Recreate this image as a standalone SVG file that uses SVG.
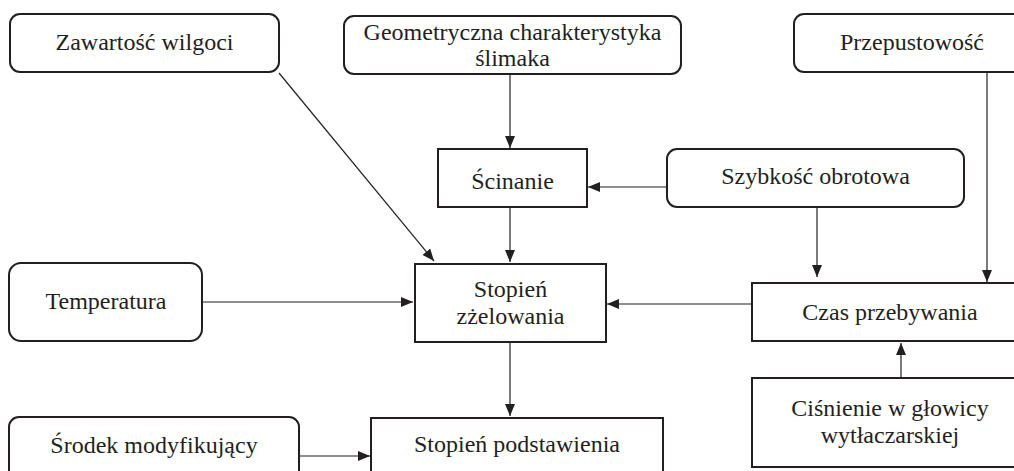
<svg xmlns="http://www.w3.org/2000/svg" width="1014" height="471" viewBox="0 0 1014 471">
<style>
.box{fill:#fff;stroke:#231f20;stroke-width:2}
.t{font-family:"Liberation Serif","Times New Roman",serif;font-size:24px;fill:#231f20;text-anchor:middle}
.c{stroke:#231f20;stroke-width:1.2;fill:none;marker-end:url(#ah)}
</style>
<defs>
<marker id="ah" markerWidth="12" markerHeight="10" refX="12" refY="5" orient="auto" markerUnits="userSpaceOnUse">
<path d="M0,0 L12,5 L0,10 Z" fill="#231f20"/>
</marker>
</defs>
<rect width="1014" height="471" fill="#fff"/>
<g id="connectors">
<line class="c" x1="279" y1="73" x2="434" y2="261"/>
<line class="c" x1="510" y1="74" x2="510" y2="148"/>
<line class="c" x1="667" y1="187" x2="588" y2="187"/>
<line class="c" x1="510" y1="207" x2="510" y2="262"/>
<line class="c" x1="202" y1="302" x2="413" y2="302"/>
<line class="c" x1="752" y1="304" x2="607" y2="304"/>
<line class="c" x1="817" y1="207" x2="817" y2="277"/>
<line class="c" x1="987" y1="72" x2="987" y2="282"/>
<line class="c" x1="901" y1="378" x2="901" y2="343"/>
<line class="c" x1="510" y1="342" x2="510" y2="416"/>
<line class="c" x1="299" y1="456" x2="370" y2="456"/>
</g>
<g id="n-zawartosc">
<rect class="box" x="10" y="14" width="269" height="58" rx="10"/>
<text class="t" x="144.5" y="50">Zawartość wilgoci</text>
</g>
<g id="n-geometryczna">
<rect class="box" x="344" y="16" width="337" height="58" rx="10"/>
<text class="t" x="512.5" y="40">Geometryczna charakterystyka</text>
<text class="t" x="512.5" y="66">ślimaka</text>
</g>
<g id="n-przepustowosc">
<rect class="box" x="794" y="14" width="240" height="58" rx="10"/>
<text class="t" x="912" y="50">Przepustowość</text>
</g>
<g id="n-scinanie">
<rect class="box" x="438" y="149" width="149" height="58"/>
<text class="t" x="512.5" y="189">Ścinanie</text>
</g>
<g id="n-szybkosc">
<rect class="box" x="667" y="149" width="297" height="58" rx="10"/>
<text class="t" x="815.5" y="184">Szybkość obrotowa</text>
</g>
<g id="n-temperatura">
<rect class="box" x="9" y="263" width="193" height="78" rx="12"/>
<text class="t" x="106" y="309">Temperatura</text>
</g>
<g id="n-zelowanie">
<rect class="box" x="415" y="264" width="191" height="78"/>
<text class="t" x="510.5" y="297">Stopień</text>
<text class="t" x="510.5" y="324">zżelowania</text>
</g>
<g id="n-czas">
<rect class="box" x="752" y="283" width="280" height="58"/>
<text class="t" x="890" y="320">Czas przebywania</text>
</g>
<g id="n-cisnienie">
<rect class="box" x="752" y="378" width="280" height="89"/>
<text class="t" x="890" y="416">Ciśnienie w głowicy</text>
<text class="t" x="890" y="443">wytłaczarskiej</text>
</g>
<g id="n-srodek">
<rect class="box" x="9" y="417" width="290" height="70" rx="10"/>
<text class="t" x="154" y="453">Środek modyfikujący</text>
</g>
<g id="n-podstawienie">
<rect class="box" x="371" y="418" width="292" height="70"/>
<text class="t" x="517" y="452">Stopień podstawienia</text>
</g>
</svg>
